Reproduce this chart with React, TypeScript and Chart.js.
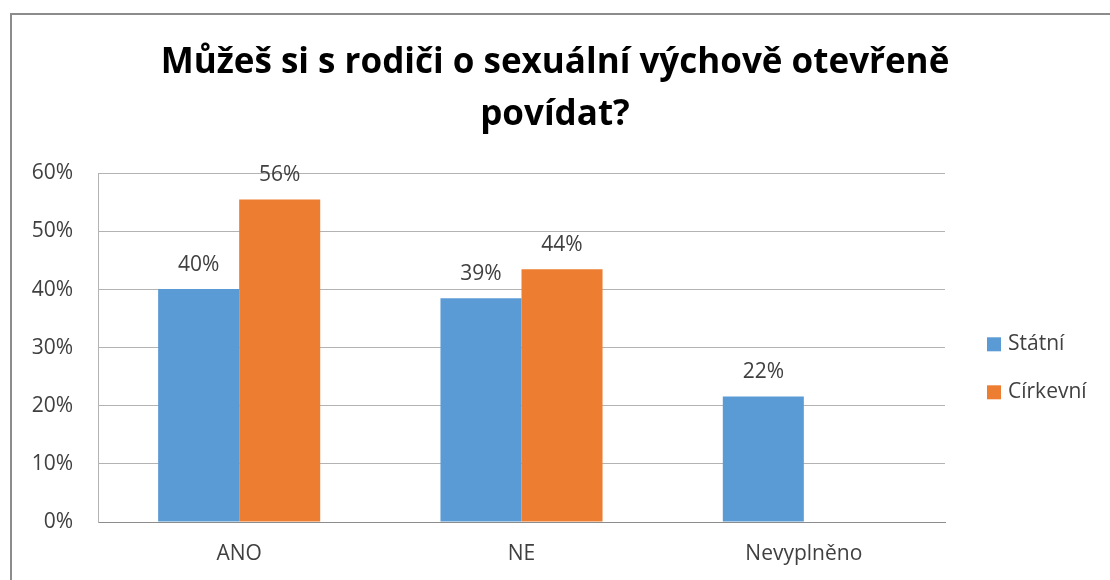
import React, { useEffect, useRef } from "react";
import { Chart, registerables } from "chart.js";

Chart.register(...registerables);

const titleLines = ["Můžeš si s rodiči o sexuální výchově otevřeně", "povídat?"];
const categories = ["ANO", "NE", "Nevyplněno"];
const seriesNames = ["Státní", "Církevní"];
const statni = [40.1, 38.5, 21.6];
const cirkevni: (number | null)[] = [55.5, 43.5, null];
const yMin = 0;
const yMax = 60;
const yStep = 10;

const colors = ["#5B9BD5", "#ED7D31"];
const FONT = "'Open Sans', 'DejaVu Sans', sans-serif";

const framePlugin = {
  id: "frame",
  beforeDraw(chart: any) {
    const ctx = chart.ctx;
    ctx.save();
    ctx.fillStyle = "#ffffff";
    ctx.fillRect(0, 0, chart.width, chart.height);
    ctx.strokeStyle = "#8C8C8C";
    ctx.lineWidth = 2;
    ctx.strokeRect(11, 14, chart.width + 20, chart.height + 20);
    ctx.restore();
  },
};

const dataLabelPlugin = {
  id: "dataLabels",
  afterDatasetsDraw(chart: any) {
    const ctx = chart.ctx;
    ctx.save();
    ctx.font = `21px ${FONT}`;
    ctx.fillStyle = "#404040";
    ctx.textAlign = "center";
    ctx.textBaseline = "alphabetic";
    chart.data.datasets.forEach((ds: any, di: number) => {
      const meta = chart.getDatasetMeta(di);
      meta.data.forEach((bar: any, i: number) => {
        const v = ds.data[i];
        if (v === null || v === undefined) return;
        ctx.fillText(`${Math.round(v)}%`, bar.x, bar.y - 18);
      });
    });
    ctx.restore();
  },
};

const legendPlugin = {
  id: "customLegend",
  afterDraw(chart: any) {
    const ctx = chart.ctx;
    const area = chart.chartArea;
    ctx.save();
    ctx.font = `21px ${FONT}`;
    ctx.textBaseline = "middle";
    ctx.textAlign = "left";
    chart.data.datasets.forEach((ds: any, di: number) => {
      const x = area.right + 42;
      const cy = area.top + 171 + di * 48;
      ctx.fillStyle = ds.backgroundColor;
      ctx.fillRect(x, cy - 7, 14, 14);
      ctx.fillStyle = "#404040";
      ctx.fillText(ds.label, x + 21, cy);
    });
    ctx.restore();
  },
};

export default function App() {
  const canvasRef = useRef<HTMLCanvasElement | null>(null);

  useEffect(() => {
    document.body.style.margin = "0";
    const canvas = canvasRef.current;
    if (!canvas) return;
    const chart = new Chart(canvas, {
      type: "bar",
      data: {
        labels: categories,
        datasets: [
          {
            label: seriesNames[0],
            data: statni,
            backgroundColor: colors[0],
            barPercentage: 1,
            categoryPercentage: 0.574,
          },
          {
            label: seriesNames[1],
            data: cirkevni,
            backgroundColor: colors[1],
            barPercentage: 1,
            categoryPercentage: 0.574,
          },
        ],
      },
      options: {
        animation: false,
        responsive: false,
        maintainAspectRatio: false,
        layout: { padding: { left: 0, right: 0, top: 0, bottom: 0 } },
        plugins: {
          legend: { display: false },
          tooltip: { enabled: false },
          title: {
            display: true,
            text: titleLines,
            color: "#000000",
            font: { family: FONT, size: 35, weight: "bold", lineHeight: 1.49 },
            padding: { top: 37, bottom: 32 },
          },
        },
        scales: {
          x: {
            grid: { display: false, drawTicks: false },
            border: { display: true, color: "#8C8C8C", width: 1 },
            ticks: {
              color: "#404040",
              font: { family: FONT, size: 21 },
              padding: 19,
            },
            afterFit(scale: any) {
              scale.height = 58;
            },
          },
          y: {
            min: yMin,
            max: yMax,
            grid: { color: "#B3B3B3", drawTicks: false },
            border: { display: true, color: "#B3B3B3" },
            ticks: {
              stepSize: yStep,
              color: "#404040",
              font: { family: FONT, size: 21 },
              padding: 25,
              callback: (v: any) => `${v}%`,
            },
            afterFit(scale: any) {
              scale.width = 98;
            },
          },
          legendSpace: {
            type: "linear",
            position: "right",
            display: true,
            grid: { display: false, drawTicks: false },
            border: { display: false },
            ticks: { display: false },
            afterFit(scale: any) {
              scale.width = 165;
            },
          },
        },
      },
      plugins: [framePlugin, dataLabelPlugin, legendPlugin],
    });
    return () => chart.destroy();
  }, []);

  return <canvas ref={canvasRef} width={1110} height={580} style={{ display: "block" }} />;
}
